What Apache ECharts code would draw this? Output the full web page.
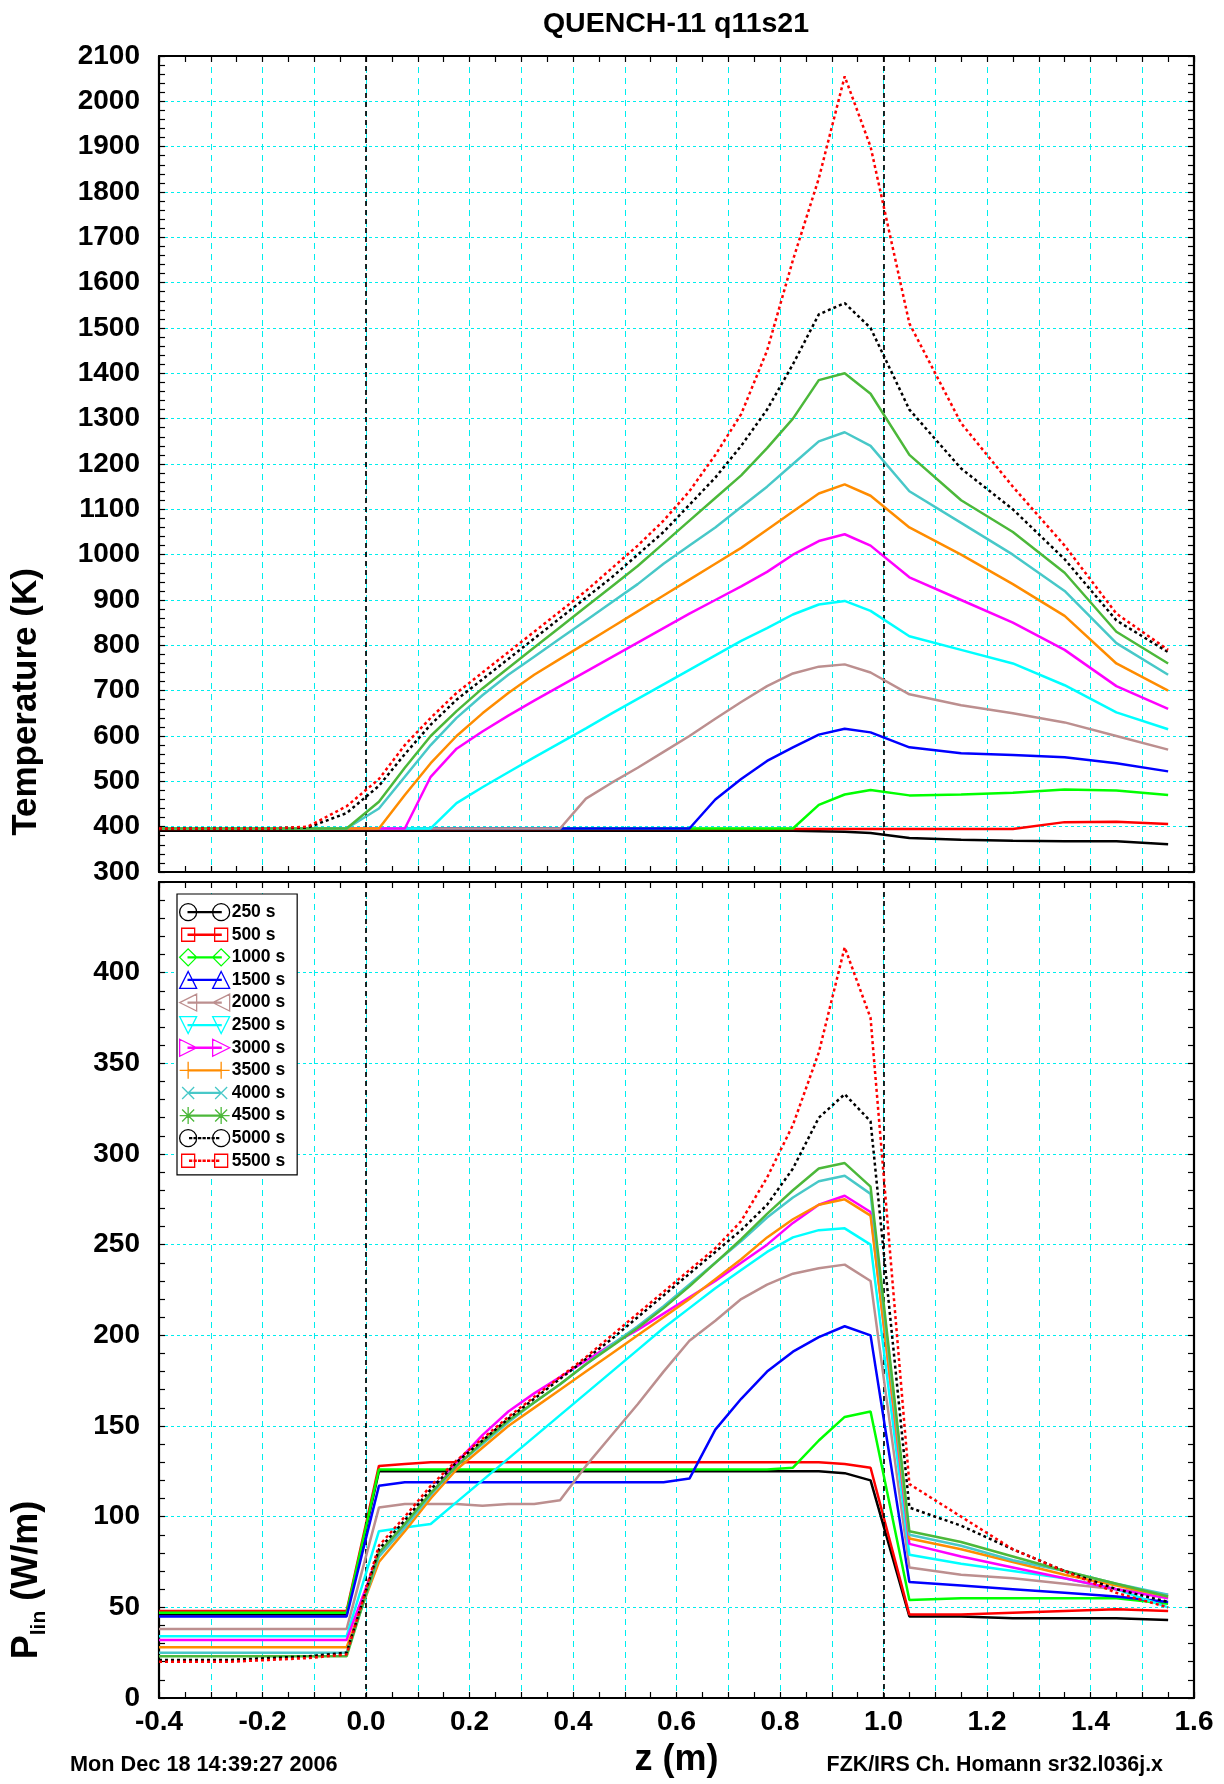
<!DOCTYPE html>
<html>
<head>
<meta charset="utf-8">
<title>QUENCH-11 q11s21</title>
<script src="https://cdn.jsdelivr.net/npm/echarts@6/dist/echarts.min.js"></script>
<style>
html,body{margin:0;padding:0;background:#ffffff;}
#chart{width:1224px;height:1784px;}
</style>
</head>
<body>
<div id="chart"></div>
<script>
// ---------------- data ----------------
const zNodes = [-0.4, -0.3375, -0.2625, -0.1875, -0.1125, -0.0375,
  0.025, 0.075, 0.125, 0.175, 0.225, 0.275, 0.325, 0.375, 0.425, 0.475,
  0.525, 0.575, 0.625, 0.675, 0.725, 0.775, 0.825, 0.875, 0.925, 0.975,
  1.05, 1.15, 1.25, 1.35, 1.45, 1.55];

const seriesNames = ['250 s', '500 s', '1000 s', '1500 s', '2000 s', '2500 s',
  '3000 s', '3500 s', '4000 s', '4500 s', '5000 s', '5500 s'];

// Temperature (K)
const T250  = [391,391,391,391,391,391, 391,391,391,391,391,391,391,391,391,391,391,391,391,391,391,391,391,390,389,386, 375,371,369,368,368,361];
const T500  = [395,395,395,395,395,395, 395,395,395,395,395,395,395,395,395,395,395,395,395,395,395,395,395,395,395,395, 395,395,395,410,411,406];
const T1000 = [396,396,396,396,396,396, 396,396,396,396,396,396,396,396,396,396,396,396,396,396,396,396,396,448,471,481, 469,471,475,482,480,470];
const T1500 = [396,396,396,396,396,396, 396,396,396,396,396,396,396,396,396,396,396,396,396,460,505,545,575,603,616,608, 575,562,558,553,540,522];
const T2000 = [396,396,396,396,396,396, 396,396,396,396,396,396,396,396,462,497,530,565,600,638,675,710,738,753,758,740, 692,668,650,630,600,570];
const T2500 = [396,396,396,396,396,396, 396,396,396,452,487,520,553,585,617,650,682,714,746,778,810,838,868,890,898,876, 820,790,760,712,652,615];
const T3000 = [396,396,396,396,396,396, 396,396,510,572,610,645,678,710,742,774,806,838,870,900,930,962,1000,1030,1045,1020, 950,900,850,790,710,660];
const T3500 = [396,396,396,396,396,396, 396,470,540,600,650,695,735,770,805,840,875,910,945,980,1015,1055,1095,1135,1155,1130, 1060,1000,935,865,760,700];
const T4000 = [396,396,396,396,396,396, 440,510,580,640,690,735,775,815,855,895,935,980,1020,1060,1105,1150,1200,1250,1270,1240, 1140,1070,1000,920,805,735];
const T4500 = [396,396,396,396,396,396, 455,530,600,655,705,750,795,840,885,930,975,1025,1075,1125,1175,1235,1300,1385,1400,1355, 1220,1120,1050,960,830,760];
const T5000 = [396,396,396,396,398,430, 490,560,625,680,725,770,815,860,905,950,1000,1050,1110,1170,1240,1320,1420,1530,1555,1500, 1320,1190,1100,990,855,785];
const T5500 = [396,396,396,396,400,445, 505,580,640,695,740,785,830,875,920,970,1020,1075,1140,1220,1310,1450,1650,1830,2055,1900, 1510,1290,1150,1020,870,790];

// Linear power (W/m)
const P250  = [46,46,46,46,46,46, 125,125,125,125,125,125,125,125,125,125,125,125,125,125,125,125,125,125,124,120, 45,45,44,44,44,43];
const P500  = [48,48,48,48,48,48, 128,129,130,130,130,130,130,130,130,130,130,130,130,130,130,130,130,130,129,127, 46,46,47,48,49,48];
const P1000 = [47,47,47,47,47,47, 126,126,126,126,126,126,126,126,126,126,126,126,126,126,126,126,127,142,155,158, 54,55,55,55,55,52];
const P1500 = [45,45,45,45,45,45, 117,119,119,119,119,119,119,119,119,119,119,119,121,148,165,180,191,199,205,200, 64,62,60,58,56,53];
const P2000 = [38,38,38,38,38,38, 105,107,107,107,106,107,107,109,128,145,162,180,197,208,220,228,234,237,239,230, 72,68,66,63,60,57];
const P2500 = [34,34,34,34,34,34, 92,94,96,108,120,132,144,156,168,180,192,204,215,226,236,246,254,258,259,250, 79,74,70,66,60,50];
const P3000 = [32,32,32,32,32,32, 80,95,112,130,145,158,168,177,186,195,203,212,221,230,240,250,262,272,277,268, 85,78,72,66,60,55];
const P3500 = [28,28,28,28,28,28, 75,92,110,126,138,150,160,170,180,190,200,210,220,231,242,254,264,272,275,266, 88,82,75,68,62,56];
const P4000 = [25,25,25,25,25,25, 78,94,112,128,140,152,163,173,184,195,205,216,228,240,252,265,276,285,288,278, 90,84,76,70,63,57];
const P4500 = [23,23,23,23,23,23, 80,96,113,128,141,153,163,173,184,194,204,215,227,240,253,267,280,292,295,282, 92,86,78,70,63,56];
const P5000 = [21,21,21,22,23,25, 82,98,115,130,142,154,165,176,187,198,210,222,234,246,258,272,292,320,333,318, 105,95,82,70,60,53];
const P5500 = [20,20,20,21,22,24, 84,100,117,131,143,155,166,177,188,200,212,224,236,248,263,287,316,356,414,375, 118,100,82,70,58,50];

// axis ticks and reference lines
const zTicks = { min: -0.4, max: 1.6, step: 0.1 };
const tTicks = { min: 300, max: 2100, step: 100 };
const pTicks = { min: 0, max: 450, step: 50 };
const heatedZoneEdges = [0.0, 1.0];

// ---------------- styles ----------------
const lineColors = ['#000000', '#ff0000', '#00ff00', '#0000ff', '#bc8f8f', '#00ffff',
  '#ff00ff', '#ff8c00', '#48c8c8', '#4cb83a', '#000000', '#ff0000'];
const dottedFlags = [false, false, false, false, false, false, false, false, false, false, true, true];
const markerKinds = ['circle', 'square', 'diamond', 'triUp', 'triLeft', 'triDown', 'triRight',
  'plus', 'cross', 'star', 'circle', 'square'];

const FONT = 'Liberation Sans, Arial, Helvetica, sans-serif';
const tempSets = [T250, T500, T1000, T1500, T2000, T2500, T3000, T3500, T4000, T4500, T5000, T5500];
const powSets  = [P250, P500, P1000, P1500, P2000, P2500, P3000, P3500, P4000, P4500, P5000, P5500];

function pairs(ys) { return zNodes.map((z, i) => [z, ys[i]]); }

function markerPath(kind, cx) {
  const h = 8.5;
  switch (kind) {
    case 'circle': return `M${cx - h} 8.5 A${h} ${h} 0 1 1 ${cx + h} 8.5 A${h} ${h} 0 1 1 ${cx - h} 8.5 Z`;
    case 'square': return `M${cx - 6.5} 2 L${cx + 6.5} 2 L${cx + 6.5} 15 L${cx - 6.5} 15 Z`;
    case 'diamond': return `M${cx} 0 L${cx + h} 8.5 L${cx} 17 L${cx - h} 8.5 Z`;
    case 'triUp': return `M${cx} 0 L${cx + h} 17 L${cx - h} 17 Z`;
    case 'triLeft': return `M${cx - h} 8.5 L${cx + h} 0 L${cx + h} 17 Z`;
    case 'triDown': return `M${cx - h} 0 L${cx + h} 0 L${cx} 17 Z`;
    case 'triRight': return `M${cx - h} 0 L${cx + h} 8.5 L${cx - h} 17 Z`;
    case 'plus': return `M${cx} 0 L${cx} 17 M${cx - h} 8.5 L${cx + h} 8.5`;
    case 'cross': return `M${cx - 6} 2.5 L${cx + 6} 14.5 M${cx + 6} 2.5 L${cx - 6} 14.5`;
    case 'star': return `M${cx} 0 L${cx} 17 M${cx - 6} 2.5 L${cx + 6} 14.5 M${cx + 6} 2.5 L${cx - 6} 14.5 M${cx - h} 8.5 L${cx + h} 8.5`;
  }
  return '';
}
function iconPath(kind, dotted) {
  let p = 'M0 0 L0 0 M50 17 L50 17 ';
  if (dotted) {
    for (let x = 10; x < 40; x += 4.5) p += `M${x} 8 L${x + 2} 8 L${x + 2} 9 L${x} 9 Z `;
  } else {
    p += 'M8.5 8 L41.5 8 L41.5 9 L8.5 9 Z ';
  }
  p += markerPath(kind, 8.5) + ' ' + markerPath(kind, 41.5);
  return 'path://' + p;
}

// ---------------- series ----------------
const series = [];
[[tempSets, 0], [powSets, 1]].forEach(([sets, g]) => {
  sets.forEach((ys, k) => {
    const s = {
      type: 'line',
      name: seriesNames[k],
      xAxisIndex: g * 2,
      yAxisIndex: g * 2,
      data: pairs(ys),
      symbol: 'none',
      showSymbol: false,
      silent: true,
      animation: false,
      z: 3 + k,
      lineStyle: { color: lineColors[k], width: 2.5, type: dottedFlags[k] ? [3, 3] : 'solid' },
      itemStyle: { color: lineColors[k] }
    };
    if (k === 0) {
      s.markLine = {
        silent: true, animation: false, symbol: ['none', 'none'],
        label: { show: false },
        lineStyle: { color: '#000', type: [5, 4], width: 1.7 },
        data: heatedZoneEdges.map(v => ({ xAxis: v }))
      };
    }
    series.push(s);
  });
});

// ---------------- axes ----------------
const GRID_CYAN = '#00eeee';
function xAxisCfg(grid, pos, labels, split) {
  return {
    type: 'value', gridIndex: grid, position: pos,
    min: zTicks.min, max: zTicks.max, interval: zTicks.step,
    axisLine: { show: true, onZero: false, lineStyle: { color: '#000', width: 2.2 } },
    axisTick: { show: true, inside: true, length: 6, lineStyle: { color: '#000', width: 1.2 } },
    minorTick: { show: true, splitNumber: 2, length: 6, lineStyle: { color: '#000', width: 1.2 } },
    axisLabel: {
      show: labels, margin: 10, color: '#000', fontSize: 28, fontWeight: 'bold', fontFamily: FONT,
      formatter: v => (Math.round(v * 10) % 2 === 0 ? v.toFixed(1) : '')
    },
    splitLine: { show: split, lineStyle: { color: GRID_CYAN, type: [6, 5], width: 1 } },
    minorSplitLine: { show: false }
  };
}
function yAxisCfg(grid, pos, ticks, labels, split, hideTop) {
  return {
    type: 'value', gridIndex: grid, position: pos,
    min: ticks.min, max: ticks.max, interval: ticks.step,
    axisLine: { show: true, onZero: false, lineStyle: { color: '#000', width: 2.2 } },
    axisTick: { show: true, inside: true, length: 6, lineStyle: { color: '#000', width: 1.2 } },
    minorTick: { show: true, splitNumber: 5, length: 6, lineStyle: { color: '#000', width: 1.2 } },
    axisLabel: {
      show: labels, margin: 19, color: '#000', fontSize: 28, fontWeight: 'bold', fontFamily: FONT,
      formatter: v => (hideTop && v >= ticks.max ? '' : String(v))
    },
    splitLine: { show: split, lineStyle: { color: GRID_CYAN, type: [3, 3], width: 1 } }
  };
}

const option = {
  backgroundColor: '#ffffff',
  animation: false,
  textStyle: { fontFamily: FONT },
  grid: [
    { left: 159, top: 56, width: 1035, height: 816, containLabel: false },
    { left: 159, top: 882, width: 1035, height: 816, containLabel: false }
  ],
  xAxis: [
    xAxisCfg(0, 'bottom', false, true),
    xAxisCfg(0, 'top', false, false),
    Object.assign(xAxisCfg(1, 'bottom', true, true), {
      name: 'z (m)', nameLocation: 'middle', nameGap: 44,
      nameTextStyle: { fontSize: 36, fontWeight: 'bold', color: '#000', fontFamily: FONT }
    }),
    xAxisCfg(1, 'top', false, false)
  ],
  yAxis: [
    yAxisCfg(0, 'left', tTicks, true, true, false),
    yAxisCfg(0, 'right', tTicks, false, false, false),
    yAxisCfg(1, 'left', pTicks, true, true, true),
    yAxisCfg(1, 'right', pTicks, false, false, true)
  ],
  legend: {
    show: true, orient: 'vertical', left: 177, top: 894,
    backgroundColor: '#ffffff', borderColor: '#000', borderWidth: 1.2,
    padding: [9, 12, 5, 2], itemGap: 4.3, itemWidth: 50, itemHeight: 17,
    selectedMode: false,
    textStyle: { fontSize: 17.5, fontWeight: 'bold', color: '#000', fontFamily: FONT, padding: [0, 0, 0, -3] },
    data: seriesNames.map((n, k) => ({
      name: n,
      icon: iconPath(markerKinds[k], dottedFlags[k]),
      itemStyle: { color: 'rgba(0,0,0,0)', borderColor: lineColors[k], borderWidth: 1.3, borderType: 'solid', opacity: 1 }
    }))
  },
  graphic: [
    { type: 'text', x: 676, y: 24, silent: true,
      style: { text: 'QUENCH-11 q11s21', fill: '#000', font: 'bold 28.5px ' + FONT, textAlign: 'center', textVerticalAlign: 'middle' } },
    { type: 'text', x: 26, y: 702, rotation: Math.PI / 2, silent: true,
      style: { text: 'Temperature (K)', fill: '#000', font: 'bold 35px ' + FONT, textAlign: 'center', textVerticalAlign: 'middle' } },
    { type: 'text', x: 27, y: 1580, rotation: Math.PI / 2, silent: true,
      style: { text: '{a|P}{b|lin}{a| (W/m)}', textAlign: 'center', textVerticalAlign: 'middle',
        rich: {
          a: { fontSize: 36, fontWeight: 'bold', fontFamily: FONT, fill: '#000', color: '#000', lineHeight: 46 },
          b: { fontSize: 21, fontWeight: 'bold', fontFamily: FONT, fill: '#000', color: '#000', lineHeight: 21, verticalAlign: 'bottom' }
        } } },
    { type: 'text', x: 70, y: 1765, silent: true,
      style: { text: 'Mon Dec 18 14:39:27 2006', fill: '#000', font: 'bold 21.7px ' + FONT, textAlign: 'left', textVerticalAlign: 'middle' } },
    { type: 'text', x: 1163, y: 1765, silent: true,
      style: { text: 'FZK/IRS Ch. Homann sr32.l036j.x', fill: '#000', font: 'bold 21.4px ' + FONT, textAlign: 'right', textVerticalAlign: 'middle' } }
  ],
  series: series
};

const chart = echarts.init(document.getElementById('chart'), null, { renderer: 'canvas' });
chart.setOption(option);
</script>
</body>
</html>
